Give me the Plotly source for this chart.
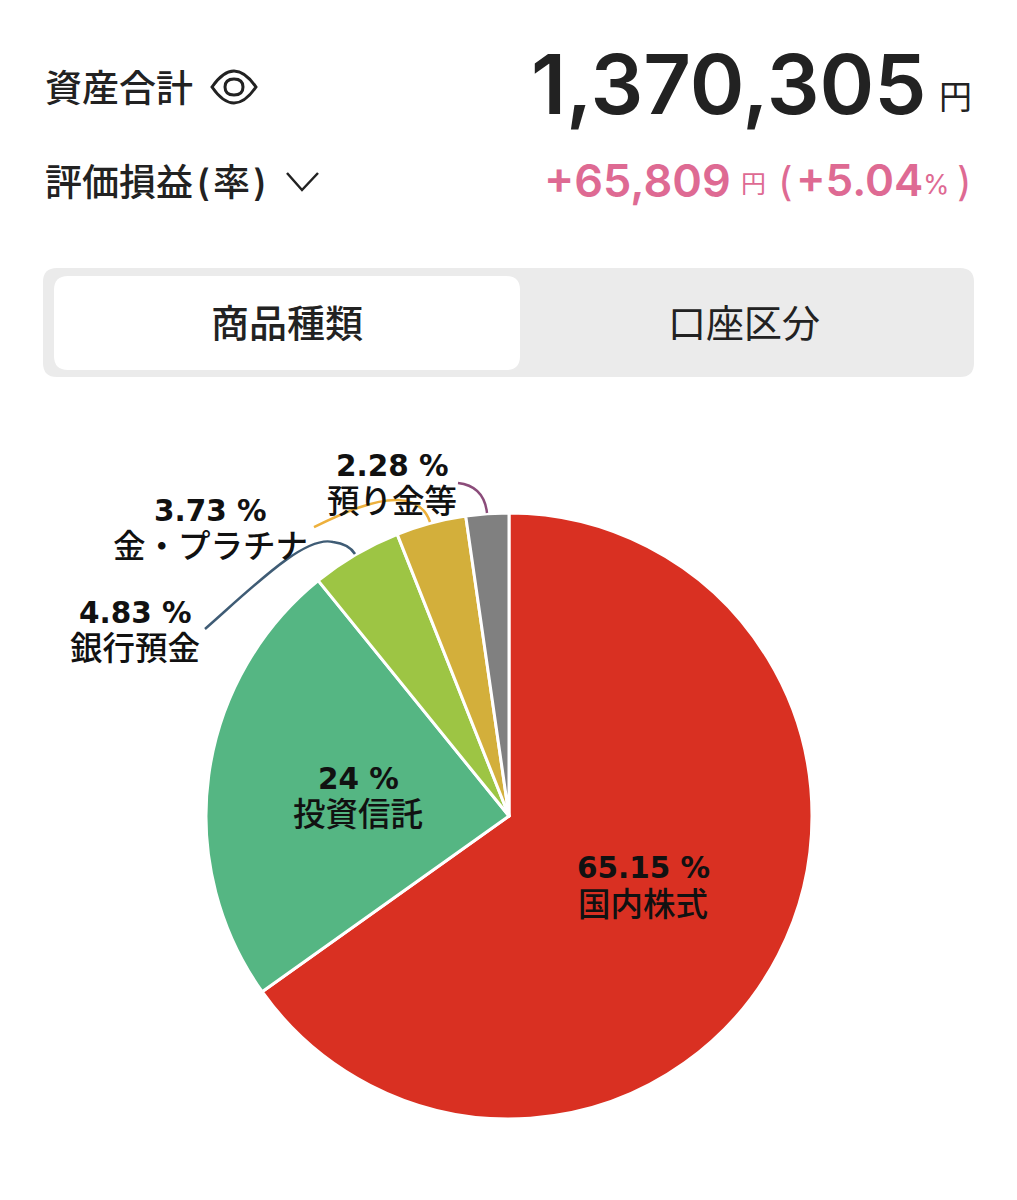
import plotly.graph_objects as go

categories = ["国内株式", "投資信託", "銀行預金", "金・プラチナ", "預り金等"]
shares = [65.15, 24, 4.83, 3.73, 2.28]
total_yen = "1,370,305"
gain_yen = "+65,809"
gain_pct = "+5.04"
tabs = ["商品種類", "口座区分"]

W, H = 1017, 1200
JP = "Inter, Noto Sans CJK JP"
NUM = "DejaVu Sans, Noto Sans CJK JP"
INK = "#222222"
PINK = "#DE6A93"
colors = ["#D93022", "#55B683", "#9DC544", "#D3AF3B", "#808080"]


def px(x):
    return x / W


def py(y):
    return 1 - y / H


def note(x, y, text, size, color=INK, family=JP, anchor="center", weight=None):
    font = dict(size=size, color=color, family=family)
    if weight:
        font["weight"] = weight
    return dict(xref="paper", yref="paper", x=px(x), y=py(y), text=text, showarrow=False,
                xanchor=anchor, yanchor="middle", font=font, borderpad=0, borderwidth=0)


def p(x, y):
    return f"{px(x):.5f},{py(y):.5f}"


def rrect(x0, y0, x1, y1, r):
    return (f"M{p(x0 + r, y0)} L{p(x1 - r, y0)} Q{p(x1, y0)} {p(x1, y0 + r)} "
            f"L{p(x1, y1 - r)} Q{p(x1, y1)} {p(x1 - r, y1)} L{p(x0 + r, y1)} "
            f"Q{p(x0, y1)} {p(x0, y1 - r)} L{p(x0, y0 + r)} Q{p(x0, y0)} {p(x0 + r, y0)} Z")


def path(d, color=None, width=0, fill=None):
    s = dict(type="path", xref="paper", yref="paper", path=d, layer="above")
    s["line"] = dict(color=color or "rgba(0,0,0,0)", width=width)
    if fill:
        s["fillcolor"] = fill
    return s


fig = go.Figure(go.Pie(
    labels=categories, values=shares, sort=False, direction="clockwise", rotation=0,
    marker=dict(colors=colors, line=dict(color="#FFFFFF", width=3)),
    textinfo="none", hoverinfo="label+percent", showlegend=False,
    domain=dict(x=[px(206), px(812)], y=[py(1119), py(513)]),
))

annotations = [
    note(45, 88, "資産合計", 37, weight=500, anchor="left"),
    note(45, 183, "評価損益\u200a(\u200a率\u200a)", 37, anchor="left", weight=500),
    note(927, 84, total_yen, 83, anchor="right", weight=600),
    note(972, 97, "円", 33, anchor="right"),
    note(731, 180, gain_yen, 45, color=PINK, anchor="right", weight=600),
    note(766, 184, "円", 25, color=PINK, anchor="right"),
    note(785, 182, "(", 40, color=PINK),
    note(923, 180, gain_pct, 44, color=PINK, anchor="right", weight=600),
    note(950, 184, "%", 27, color=PINK, anchor="right"),
    note(964, 182, ")", 40, color=PINK),
    note(287, 323, tabs[0], 38, weight=500),
    note(744, 323, tabs[1], 38),
]

label_spots = [(643, 868, 904), (358, 779, 814), (135, 613, 648), (210, 511, 546), (392, 466, 501)]
for name, share, (lx, ly1, ly2) in zip(categories, shares, label_spots):
    annotations.append(note(lx, ly1, f"{share:g} %", 29.5, color="#111111", family=NUM, weight=700))
    annotations.append(note(lx, ly2, name, 32.5, color="#111111", weight=500))

shapes = [
    path(rrect(43, 268, 974, 377, 14), fill="#EBEBEB"),
    path(rrect(54, 276, 520, 370, 14), fill="#FFFFFF"),
    # eye icon
    path(f"M{p(212, 87)} Q{p(234, 55)} {p(256, 87)} Q{p(234, 119)} {p(212, 87)} Z", color=INK, width=3),
    path(f"M{p(225, 87)} Q{p(225, 79)} {p(234, 79)} Q{p(243, 79)} {p(243, 87)} "
         f"Q{p(243, 95)} {p(234, 95)} Q{p(225, 95)} {p(225, 87)} Z", color=INK, width=3),
    # chevron
    path(f"M{p(287, 173)} L{p(302, 190)} L{p(318, 173)}", color=INK, width=2.5),
    # leader lines
    path(f"M{p(205, 629)} C{p(255, 585)} {p(305, 535)} {p(333, 542)} Q{p(349, 544)} {p(355, 554)}",
         color="#3F5C75", width=2.5),
    path(f"M{p(314, 527)} C{p(345, 512)} {p(375, 499)} {p(398, 500)} Q{p(423, 501)} {p(430, 522)}",
         color="#EDB03C", width=2.5),
    path(f"M{p(458, 483)} Q{p(484, 486)} {p(487, 513)}", color="#8B4C7A", width=2.5),
]

fig.update_layout(
    width=W, height=H, autosize=False,
    margin=dict(l=0, r=0, t=0, b=0, pad=0),
    paper_bgcolor="#FFFFFF", plot_bgcolor="#FFFFFF",
    annotations=annotations, shapes=shapes, showlegend=False,
)

fig.write_html("out.html", config=dict(displayModeBar=False),
               post_script="document.body.style.margin='0';document.body.style.overflow='hidden';")
